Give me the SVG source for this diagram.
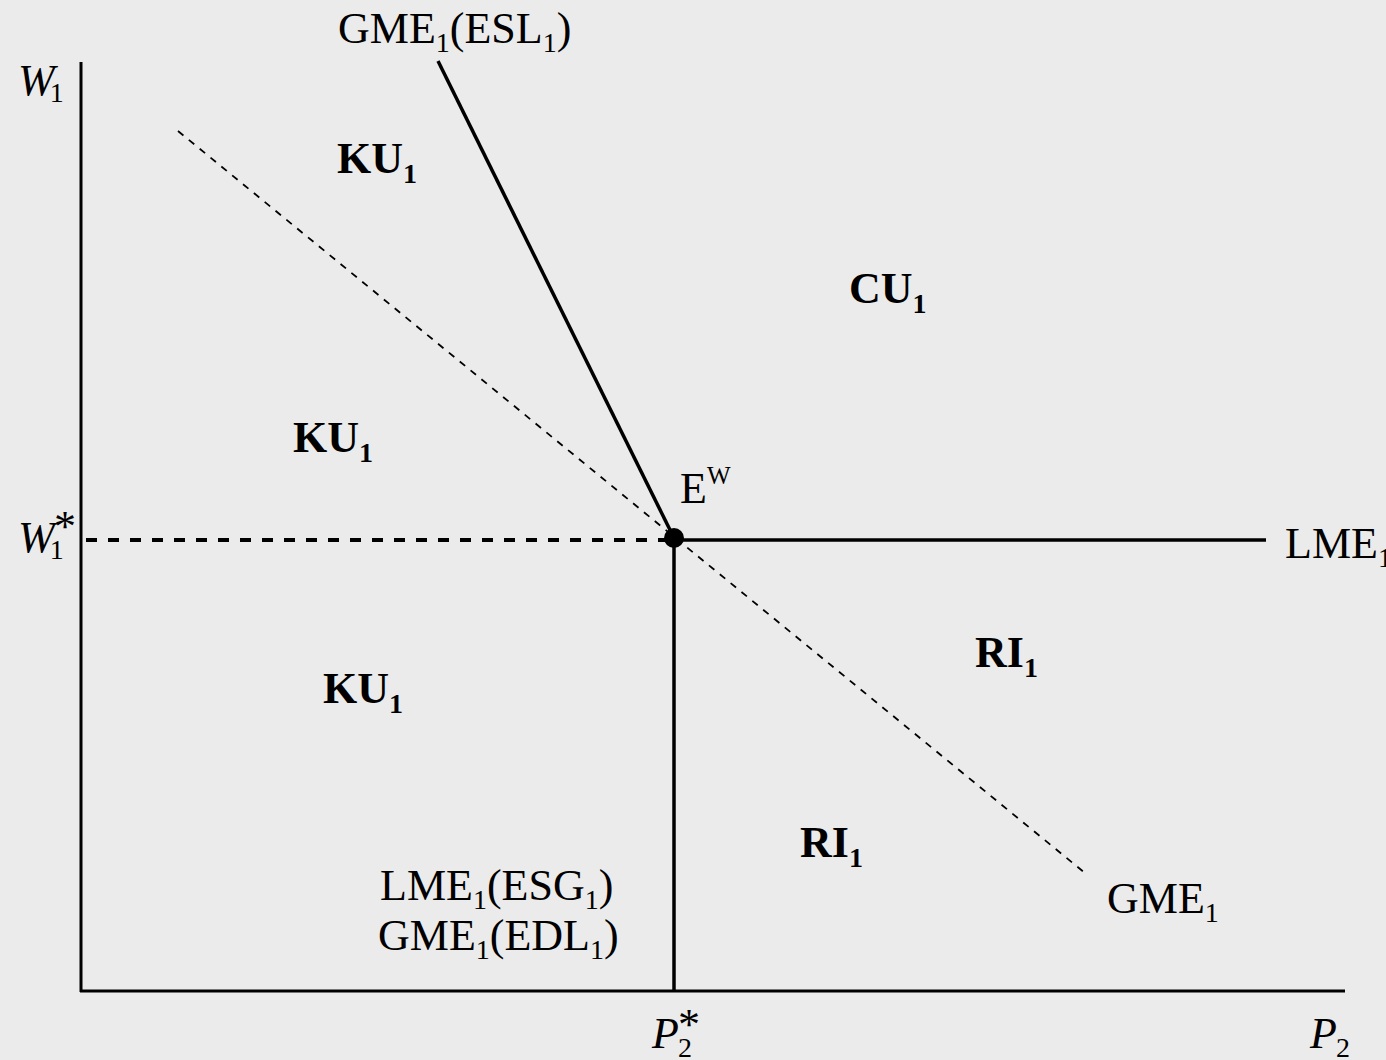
<svg xmlns="http://www.w3.org/2000/svg" width="1386" height="1060" viewBox="0 0 1386 1060">
<style>
text{font-family:"Liberation Serif","Times New Roman",serif;fill:#000;font-size:44px}
.b{font-weight:bold}
.i{font-style:italic}
.s{font-size:28px;font-style:normal}
.axis{stroke:#000;stroke-width:3;fill:none}
.solid{stroke:#000;stroke-width:3.5;fill:none}
.thin{stroke:#000;stroke-width:1.8;fill:none;stroke-dasharray:7 7}
.thick{stroke:#000;stroke-width:4;fill:none;stroke-dasharray:11 11}
</style>
<rect width="1386" height="1060" fill="#ebebeb"/>
<g id="connectors">
<line class="axis" x1="81" y1="62" x2="81" y2="992"/>
<line class="axis" x1="80" y1="991" x2="1345" y2="991"/>
<line class="thin" x1="178" y1="131" x2="1085" y2="873"/>
<line class="solid" x1="438" y1="61" x2="674" y2="538"/>
<line class="thick" x1="86" y1="540" x2="668" y2="540"/>
<line class="solid" x1="674" y1="540" x2="1266" y2="540"/>
<line class="solid" x1="674" y1="540" x2="674" y2="991"/>
</g>
<g id="node-E">
<circle cx="674" cy="538" r="10" fill="#000"/>
<text x="680" y="503">E<tspan font-size="25" dy="-19">W</tspan></text>
</g>
<g id="label-gme-esl"><text x="338" y="43">GME<tspan class="s" dy="9">1</tspan><tspan dy="-9">(ESL</tspan><tspan class="s" dy="9">1</tspan><tspan dy="-9">)</tspan></text></g>
<g id="label-lme"><text x="1285" y="558">LME<tspan class="s" dy="9">1</tspan></text></g>
<g id="label-gme"><text x="1107" y="913">GME<tspan class="s" dy="9">1</tspan></text></g>
<g id="label-lme-esg"><text x="380" y="900">LME<tspan class="s" dy="9">1</tspan><tspan dy="-9">(ESG</tspan><tspan class="s" dy="9">1</tspan><tspan dy="-9">)</tspan></text></g>
<g id="label-gme-edl"><text x="378" y="950">GME<tspan class="s" dy="9">1</tspan><tspan dy="-9">(EDL</tspan><tspan class="s" dy="9">1</tspan><tspan dy="-9">)</tspan></text></g>
<g id="axis-w1"><text class="i" x="18" y="95">W<tspan class="s" dx="-5" dy="7">1</tspan></text></g>
<g id="axis-w1star"><text class="i" x="18" y="552">W<tspan class="s" dx="-5" dy="7">1</tspan></text><text x="54" y="541">*</text></g>
<g id="axis-p2star"><text class="i" x="652" y="1048">P<tspan class="s" dx="-1" dy="9">2</tspan></text><text x="678" y="1039">*</text></g>
<g id="axis-p2"><text class="i" x="1310" y="1048">P<tspan class="s" dx="-1" dy="9">2</tspan></text></g>
<g id="region-ku1a"><text class="b" x="337" y="173">KU<tspan class="s b" font-weight="bold" dy="10">1</tspan></text></g>
<g id="region-ku1b"><text class="b" x="293" y="452">KU<tspan class="s" font-weight="bold" dy="10">1</tspan></text></g>
<g id="region-ku1c"><text class="b" x="323" y="703">KU<tspan class="s" font-weight="bold" dy="10">1</tspan></text></g>
<g id="region-cu1"><text class="b" x="849" y="303">CU<tspan class="s" font-weight="bold" dy="10">1</tspan></text></g>
<g id="region-ri1a"><text class="b" x="975" y="667">RI<tspan class="s" font-weight="bold" dy="10">1</tspan></text></g>
<g id="region-ri1b"><text class="b" x="800" y="857">RI<tspan class="s" font-weight="bold" dy="10">1</tspan></text></g>
</svg>
